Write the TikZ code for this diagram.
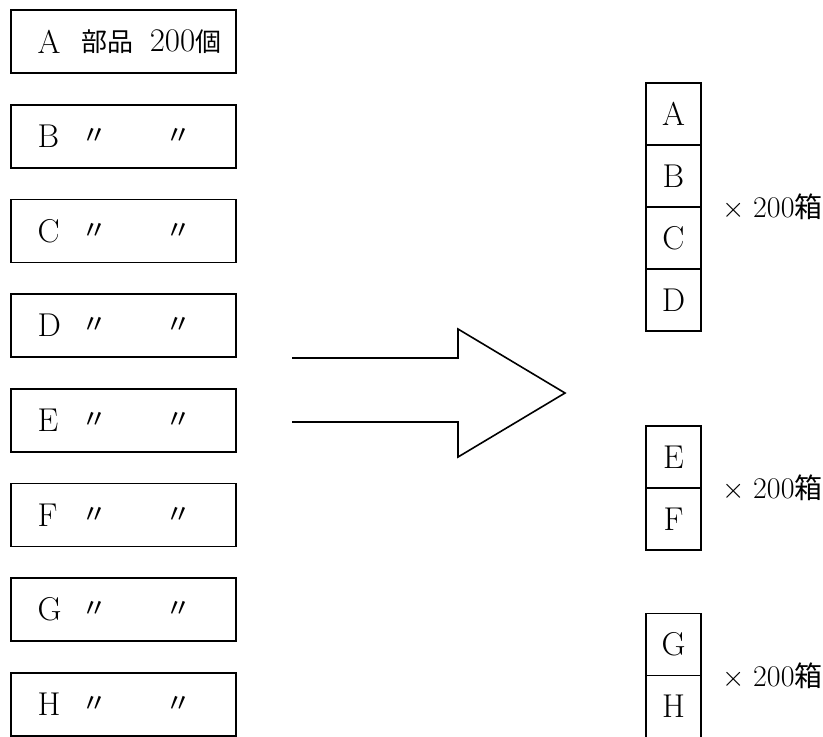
\documentclass[tikz,border=0pt]{standalone}
\usepackage{fontspec}
\usepackage{tikz}
\usetikzlibrary{positioning}
\newfontfamily\jpfont{Noto Sans CJK JP}

\begin{document}
\begin{tikzpicture}[x=0.5pt,y=-0.5pt,line width=0.8pt,font=\fontsize{16.5}{18}\selectfont,
  partbox/.style={draw,minimum width=112.5pt,minimum height=31.5pt,inner sep=0pt},
  cell/.style={draw,minimum width=27.5pt,minimum height=31pt,inner sep=0pt,outer sep=0pt},
  ditto/.style={font=\jpfont\fontsize{13}{15}\selectfont},
  count/.style={anchor=west,inner sep=0pt,font=\fontsize{15}{17}\selectfont}]
\useasboundingbox (0,0) rectangle (823,736);
% parts, one box per kind
\node[partbox] (boxA) at (123.5,41.5) {};
\node[partbox] (boxB) at (123.5,136.2) {};
\node[partbox] (boxC) at (123.5,230.9) {};
\node[partbox] (boxD) at (123.5,325.6) {};
\node[partbox] (boxE) at (123.5,420.3) {};
\node[partbox] (boxF) at (123.5,515) {};
\node[partbox] (boxG) at (123.5,609.7) {};
\node[partbox] (boxH) at (123.5,704.4) {};
\node[anchor=west] (letA) at ([xshift=10pt]boxA.west) {A};
\node[anchor=west] (letB) at ([xshift=10pt]boxB.west) {B};
\node[anchor=west] (letC) at ([xshift=10pt]boxC.west) {C};
\node[anchor=west] (letD) at ([xshift=10pt]boxD.west) {D};
\node[anchor=west] (letE) at ([xshift=10pt]boxE.west) {E};
\node[anchor=west] (letF) at ([xshift=10pt]boxF.west) {F};
\node[anchor=west] (letG) at ([xshift=10pt]boxG.west) {G};
\node[anchor=west] (letH) at ([xshift=10pt]boxH.west) {H};
\node (partA) at ([xshift=-8pt]boxA.center) {\jpfont\fontsize{13}{15}\selectfont 部品};
\node (numA) at ([xshift=31pt]boxA.center) {200{\jpfont\fontsize{13}{15}\selectfont 個}};
\node[ditto] (dlB) at ([xshift=-14.5pt]boxB.center) {〃};
\node[ditto] (drB) at ([xshift=27.5pt]boxB.center) {〃};
\node[ditto] (dlC) at ([xshift=-14.5pt]boxC.center) {〃};
\node[ditto] (drC) at ([xshift=27.5pt]boxC.center) {〃};
\node[ditto] (dlD) at ([xshift=-14.5pt]boxD.center) {〃};
\node[ditto] (drD) at ([xshift=27.5pt]boxD.center) {〃};
\node[ditto] (dlE) at ([xshift=-14.5pt]boxE.center) {〃};
\node[ditto] (drE) at ([xshift=27.5pt]boxE.center) {〃};
\node[ditto] (dlF) at ([xshift=-14.5pt]boxF.center) {〃};
\node[ditto] (drF) at ([xshift=27.5pt]boxF.center) {〃};
\node[ditto] (dlG) at ([xshift=-14.5pt]boxG.center) {〃};
\node[ditto] (drG) at ([xshift=27.5pt]boxG.center) {〃};
\node[ditto] (dlH) at ([xshift=-14.5pt]boxH.center) {〃};
\node[ditto] (drH) at ([xshift=27.5pt]boxH.center) {〃};
% block arrow
\draw[line join=miter] (292,358) -- (458,358) -- (458,329) -- (565,393) -- (458,457) -- (458,422) -- (292,422);
% packed boxes
\node[cell] (cellA) at (673.5,114) {A};
\node[cell,below=0pt of cellA] (cellB) {B};
\node[cell,below=0pt of cellB] (cellC) {C};
\node[cell,below=0pt of cellC] (cellD) {D};
\node[cell] (cellE) at (673.5,457) {E};
\node[cell,below=0pt of cellE] (cellF) {F};
\node[cell] (cellG) at (673.5,644.5) {G};
\node[cell,below=0pt of cellG] (cellH) {H};
\node[count] (cntA) at ([xshift=10.5pt]cellB.south east) {$\times$\hspace{4pt}200{\jpfont\fontsize{14}{16}\selectfont 箱}};
\node[count] (cntE) at ([xshift=10.5pt]cellE.south east) {$\times$\hspace{4pt}200{\jpfont\fontsize{14}{16}\selectfont 箱}};
\node[count] (cntG) at ([xshift=10.5pt]cellG.south east) {$\times$\hspace{4pt}200{\jpfont\fontsize{14}{16}\selectfont 箱}};
\end{tikzpicture}
\end{document}
